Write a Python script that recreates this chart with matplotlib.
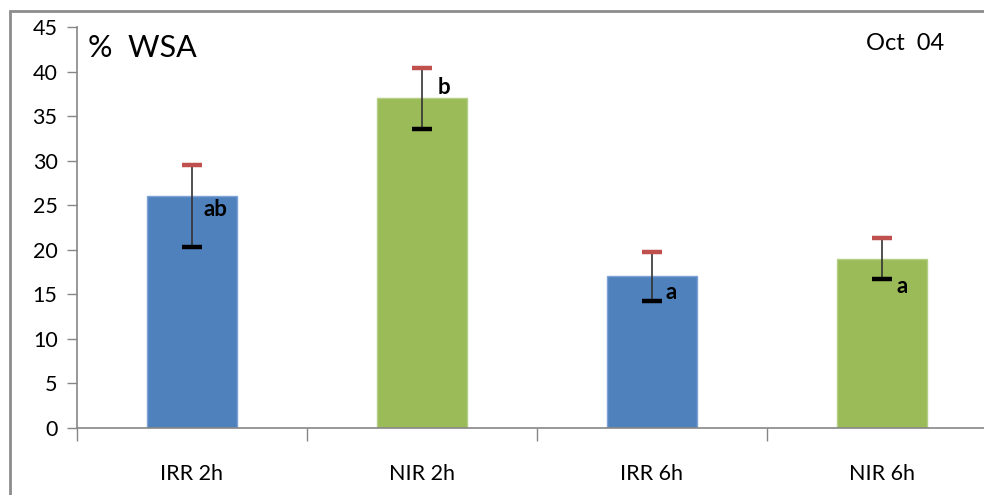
import matplotlib
matplotlib.use("Agg")
import matplotlib.pyplot as plt
from matplotlib.patches import Rectangle
import numpy as np

categories = ["IRR 2h", "NIR 2h", "IRR 6h", "NIR 6h"]
values = [26.0, 37.0, 17.05, 18.95]
err_upper = [29.55, 40.4, 19.8, 21.35]
err_lower = [20.3, 33.6, 14.3, 16.7]
letters = ["ab", "b", "a", "a"]
letter_y = [24.5, 38.2, 15.2, 15.9]
letter_dx = [0.048, 0.068, 0.058, 0.063]
bar_colors = ["#4F81BD", "#9BBB59", "#4F81BD", "#9BBB59"]
yticks = [0, 5, 10, 15, 20, 25, 30, 35, 40, 45]

plt.rcParams['font.family'] = ['Lato', 'DejaVu Sans']

W, H = 984, 495
fig = plt.figure(figsize=(W / 100, H / 100), dpi=100)
fig.patch.set_facecolor("white")

# outer chart border (cut off at right/bottom)
fig.patches.append(Rectangle((9.5 / W, -0.1), 1.2, (H - 10.5) / H + 0.1,
                             transform=fig.transFigure, fill=False,
                             edgecolor="#8C8C8C", linewidth=2, zorder=0))

ax = fig.add_axes([77 / W, 67 / H, 920 / W, 401 / H])
x = np.arange(len(categories))
ax.bar(x, values, width=0.395, color=bar_colors, edgecolor=[
    "#7FA3D6", "#B3CF85", "#7FA3D6", "#B3CF85"], linewidth=1, zorder=2)

ax.vlines(x, err_lower, err_upper, color="#333333", linewidth=1.2, zorder=3)
ax.plot(x, err_upper, linestyle="none", marker="_", markersize=14,
        markeredgewidth=3.2, color="#C0504D", zorder=4)
ax.plot(x, err_lower, linestyle="none", marker="_", markersize=14,
        markeredgewidth=3.2, color="#000000", zorder=4)

for xi, lab, ly, dx in zip(x, letters, letter_y, letter_dx):
    ax.text(xi + dx, ly, lab, fontsize=16, fontweight="bold",
            ha="left", va="center", color="black", zorder=5)

ax.set_xlim(-0.5, 3.5)
ax.set_ylim(0, 45)
ax.set_yticks(yticks)
ax.set_yticklabels([str(t) for t in yticks], fontsize=15.5)
ax.set_xticks(x)
ax.set_xticklabels(categories, fontsize=15.5)
ax.set_xticks(np.arange(-0.5, 4.0, 1.0), minor=True)
ax.tick_params(axis="x", which="major", length=0, pad=26)
ax.tick_params(axis="x", which="minor", length=9, color="#868686", width=1)
ax.tick_params(axis="y", length=7, color="#868686", width=1, pad=7)

for s in ["top", "right"]:
    ax.spines[s].set_visible(False)
for s in ["left", "bottom"]:
    ax.spines[s].set_color("#868686")
    ax.spines[s].set_linewidth(1.2)

fig.text(88 / W, 1 - 48 / H, "%  WSA", fontsize=22, ha="left", va="center")
fig.text(866 / W, 1 - 43 / H, "Oct  04", fontsize=17, ha="left", va="center")

fig.savefig("out.png", dpi=100)
